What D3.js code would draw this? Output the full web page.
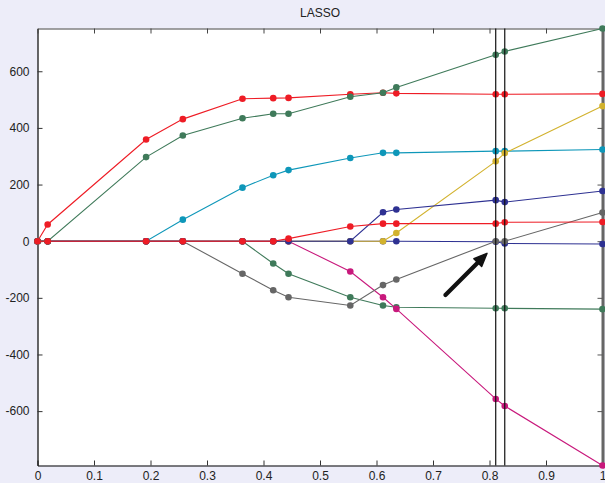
<!DOCTYPE html>
<html>
<head>
<meta charset="utf-8">
<script src="https://cdn.jsdelivr.net/npm/d3@7"></script>
<style>
  html, body { margin: 0; padding: 0; background: #ededf9; }
  svg { display: block; }
  text { font-family: "Liberation Sans", Arial, sans-serif; fill: #222; }
</style>
</head>
<body>
<svg id="chart" width="605" height="483"></svg>
<script>
// LASSO coefficient path: x is |beta| / max|beta| at each breakpoint
const breakpoints = [0, 0.018, 0.1922, 0.2572, 0.3628, 0.4172, 0.4443, 0.5536, 0.6115, 0.6351, 0.811, 0.827, 1.0];

const age = [0, 0, 0, 0, 0, 0, 0, 0, 0, 0, -2, -8, -10];
const sex = [0, 0, 0, 0, 0, -79, -115, -198, -227, -233, -237, -237, -240];
const bmi = [0, 59, 359, 431, 503, 505, 506, 519, 524, 522, 519, 519, 520];
const bp  = [0, 0, 0, 76, 189, 233, 251, 294, 312, 312, 318, 318, 324];
const s1  = [0, 0, 0, 0, 0, 0, 0, -107, -198, -239, -557, -582, -792];
const s2  = [0, 0, 0, 0, 0, 0, 0, 0, 0, 29, 282, 311, 477];
const s3  = [0, 0, 0, 0, -115, -173, -198, -227, -155, -135, 0, 0, 101];
const s4  = [0, 0, 0, 0, 0, 0, 0, 0, 102, 112, 145, 138, 177];
const s5  = [0, 0, 297, 373, 434, 450, 450, 510, 524, 543, 658, 670, 751];
const s6  = [0, 0, 0, 0, 0, 0, 9, 52, 62, 62, 62, 67, 68];

const seriesNames = ["age", "sex", "bmi", "bp", "s1", "s2", "s3", "s4", "s5", "s6"];
const seriesValues = [age, sex, bmi, bp, s1, s2, s3, s4, s5, s6];
// colour cycle: blue, green, red, cyan, magenta, yellow, black(grey)
const colorCycle = ["#2e3192", "#3f7a5a", "#ee1c25", "#0e97b9", "#c8197c", "#d2b22e", "#666666"];

const xTicks = [0, 0.1, 0.2, 0.3, 0.4, 0.5, 0.6, 0.7, 0.8, 0.9, 1];
const yTicks = [-600, -400, -200, 0, 200, 400, 600];
const xTickLabels = ["0", "0.1", "0.2", "0.3", "0.4", "0.5", "0.6", "0.7", "0.8", "0.9", "1"];
const yTickLabels = ["-600", "-400", "-200", "0", "200", "400", "600"];

// breakpoints marked with vertical lines (s3 drops out, then re-enters)
const markedSteps = [10, 11];
// annotation arrow, in data units: [x, y] tail and tip
const arrowTail = [0.722, -190];
const arrowTip = [0.7955, -43];

const svg = d3.select("#chart");
const plotLeft = 37.5, plotRight = 602.5, plotTop = 28.5, plotBottom = 465.5;

const allValues = seriesValues.flat();
const x = d3.scaleLinear().domain([0, 1]).range([plotLeft, plotRight]);
const y = d3.scaleLinear().domain(d3.extent(allValues)).range([plotBottom, plotTop]);

// plot area
svg.append("rect")
  .attr("x", plotLeft).attr("y", plotTop)
  .attr("width", plotRight - plotLeft).attr("height", plotBottom - plotTop)
  .attr("fill", "#ffffff");

// title
svg.append("text")
  .attr("x", (plotLeft + plotRight) / 2).attr("y", 17)
  .attr("text-anchor", "middle")
  .attr("font-size", 12)
  .text("LASSO");

// axes with inward ticks on all four sides
const fmtX = (d, i) => xTickLabels[i];
const fmtY = (d, i) => yTickLabels[i];

const gBottom = svg.append("g").attr("transform", `translate(0,${plotBottom})`)
  .call(d3.axisBottom(x).tickValues(xTicks).tickFormat(fmtX).tickSizeInner(-5).tickSizeOuter(0).tickPadding(5.5));
const gLeft = svg.append("g").attr("transform", `translate(${plotLeft},0)`)
  .call(d3.axisLeft(y).tickValues(yTicks).tickFormat(fmtY).tickSizeInner(-5).tickSizeOuter(0).tickPadding(8));
const gTop = svg.append("g").attr("transform", `translate(0,${plotTop})`)
  .call(d3.axisTop(x).tickValues(xTicks).tickFormat("").tickSizeInner(-5).tickSizeOuter(0));
const gRight = svg.append("g").attr("transform", `translate(${plotRight},0)`)
  .call(d3.axisRight(y).tickValues(yTicks).tickFormat("").tickSizeInner(-5).tickSizeOuter(0));

[gBottom, gLeft].forEach(g => {
  g.selectAll(".domain").attr("stroke", "#000").attr("stroke-width", 1.2);
  g.selectAll(".tick line").attr("stroke", "#333");
  g.selectAll(".tick text").attr("font-size", 12).attr("fill", "#222")
    .attr("font-family", "Liberation Sans, Arial, sans-serif");
});
gTop.selectAll(".domain").attr("stroke", "#444").attr("stroke-width", 1.2);
gTop.selectAll(".tick line").attr("stroke", "#444");
gRight.selectAll(".domain").attr("stroke", "#666").attr("stroke-width", 3);
gRight.selectAll(".tick line").attr("stroke", "#555");

// coefficient paths
const line = d3.line().x((d, i) => x(breakpoints[i])).y(d => y(d));
const plot = svg.append("g");
seriesValues.forEach((vals, k) => {
  const c = colorCycle[k % colorCycle.length];
  const g = plot.append("g").attr("class", "series-" + seriesNames[k]);
  g.append("path")
    .datum(vals)
    .attr("d", line)
    .attr("fill", "none")
    .attr("stroke", c)
    .attr("stroke-width", 1.1);
  g.selectAll("circle")
    .data(vals)
    .join("circle")
    .attr("cx", (d, i) => x(breakpoints[i]))
    .attr("cy", d => y(d))
    .attr("r", 3.3)
    .attr("fill", c);
});

// vertical lines at the drop / re-entry steps
svg.append("g").selectAll("line")
  .data(markedSteps)
  .join("line")
  .attr("x1", d => x(breakpoints[d])).attr("x2", d => x(breakpoints[d]))
  .attr("y1", plotTop).attr("y2", plotBottom)
  .attr("stroke", "#111").attr("stroke-width", 1.2);

// annotation arrow pointing at the coefficient that hits zero
const tx = x(arrowTail[0]), ty = y(arrowTail[1]);
const hx = x(arrowTip[0]), hy = y(arrowTip[1]);
const ang = Math.atan2(hy - ty, hx - tx);
const headLen = 13, headHalf = 5.5;
const bx = hx - headLen * Math.cos(ang), by = hy - headLen * Math.sin(ang);
svg.append("line")
  .attr("x1", tx).attr("y1", ty)
  .attr("x2", bx + 2 * Math.cos(ang)).attr("y2", by + 2 * Math.sin(ang))
  .attr("stroke", "#111").attr("stroke-width", 4.2).attr("stroke-linecap", "round");
svg.append("path")
  .attr("d", `M${hx},${hy} L${bx - headHalf * Math.sin(ang)},${by + headHalf * Math.cos(ang)} L${bx + headHalf * Math.sin(ang)},${by - headHalf * Math.cos(ang)} Z`)
  .attr("fill", "#111").attr("stroke", "#111").attr("stroke-width", 1.5).attr("stroke-linejoin", "round");
</script>
</body>
</html>
